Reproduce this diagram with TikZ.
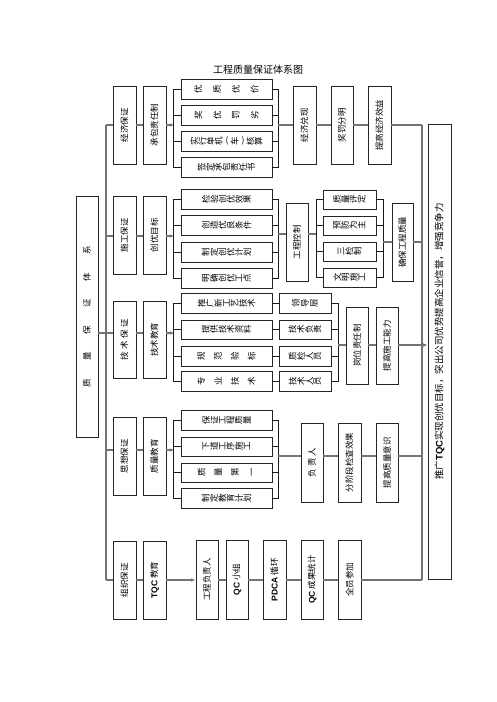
\documentclass[tikz,border=0pt]{standalone}
\usepackage{fontspec}
\setmainfont{Noto Sans CJK SC}
\newfontfamily\lat{Liberation Sans}
\usepackage{graphicx}
\usetikzlibrary{arrows.meta,calc}

\newdimen\lsep
\newif\ifrotch
\def\spcstop{\spcstop}
\def\spcput#1{\ifrotch\rotatebox[origin=c]{90}{\vphantom{国}#1}\else#1\fi}
\def\spcloop#1{\def\spctmp{#1}\ifx\spctmp\spcstop\else\hskip\lsep\relax\spcput{#1}\expandafter\spcloop\fi}
\newcommand\spaced[2]{{\lsep=#1\relax\rotchfalse\hskip-\lsep\relax\spcloop#2\spcstop}}
\newcommand\rotchars[2]{{\lsep=#1\relax\rotchtrue\hskip-\lsep\relax\spcloop#2\spcstop}}
\newcommand\rup[1]{\rotatebox{90}{#1}}
\newcommand\lp{{\rotatebox[origin=c]{-90}{(}}}
\newcommand\rp{{\rotatebox[origin=c]{-90}{)}}}
\newcommand\lb[1]{{\lat\bfseries #1}}
\newcommand\bx[6]{\node[box,minimum width={(#4-#2)*1pt},minimum height={(#5-#3)*1pt}] (#1) at ({(#2+#4)/2},{(#3+#5)/2}) {#6};}

\begin{document}
\begin{tikzpicture}[x=1pt,y=-1pt,
  box/.style={draw=black!85,line width=0.8pt,inner sep=0pt,font=\fontsize{8.5}{10}\selectfont},
  main/.style={draw=black!55,line width=1.1pt},
  br/.style={draw=black!90,line width=0.7pt},
  arr/.style={-{Latex[length=4.5pt,width=3.5pt]}}]
\useasboundingbox (0,0) rectangle (496,702);
\node[font=\fontsize{10}{12}\selectfont] (title) at (258,70) {工程质量保证体系图};

% big boxes
\bx{L}{76}{196}{98}{437}{\rup{\spaced{18pt}{质量保证体系}}}
\bx{M}{428}{124}{451}{579}{\rup{\fontsize{9.5}{12}\selectfont\hspace{20pt}推广\lb{TQC}实现创优目标，突出公司优势提高企业信誉，增强竞争力}}

% trunk and collector
\coordinate (t1) at (106,125); \coordinate (t2) at (106,236); \coordinate (t3) at (106,333);
\coordinate (t4) at (106,450); \coordinate (t5) at (106,580);
\coordinate (k1) at (422,125); \coordinate (k2) at (422,242); \coordinate (k3) at (422,345);
\coordinate (k4) at (422,456); \coordinate (k5) at (422,580);
\draw[main] (t1) -- (t5);
\draw[main] (k1) -- (k5);
\draw[main] (L.east |- t3) -- (t3);

% ---------- row 1
\bx{A1}{113}{86}{136}{164}{\rup{经济保证}}
\bx{B1}{143}{86}{166}{164}{\rup{承包责任制}}
\bx{C11}{181}{79}{272}{99}{\rotchars{11pt}{优质优价}}
\bx{C12}{181}{105}{272}{125}{\rotchars{11pt}{奖优罚劣}}
\bx{C13}{181}{131}{272}{151}{\rotchars{0.3pt}{实行单机{\lp}车{\rp}核算}}
\bx{C14}{181}{157}{272}{177}{\rotchars{0.5pt}{签定承包责任书}}
\bx{D1}{293}{86}{316}{164}{\rup{经济兑现}}
\bx{E1}{331}{86}{353}{164}{\rup{奖罚分明}}
\bx{F1}{368}{86}{391}{164}{\rup{提高经济效益}}
\draw[main] (t1) -- (t1 -| A1.west);
\draw[main] (A1.east |- t1) -- (B1.west |- t1);
\draw[main,arr] (B1.east |- t1) -- ++(8,0);
\draw[br] (C11.west) -- ++(-7,0) |- (C14.west);
\draw[br] (C12.west) -- ++(-7,0);
\draw[br] (C13.west) -- ++(-7,0);
\draw[br] (C11.east) -- ++(6,0) |- (C14.east);
\draw[br] (C12.east) -- ++(6,0);
\draw[br] (C13.east) -- ++(6,0);
\coordinate (m1) at (278,125);
\draw[main] (m1) -- (D1.west |- m1);
\draw[main] (D1.east |- m1) -- (E1.west |- m1);
\draw[main] (E1.east |- m1) -- (F1.west |- m1);
\draw[main] (F1.east |- k1) -- (k1);

% ---------- row 2
\bx{A2}{113}{196}{136}{274}{\rup{施工保证}}
\bx{B2}{143}{196}{166}{274}{\rup{创优目标}}
\bx{C21}{181}{189}{272}{209}{\rotchars{0.5pt}{检验创优效果}}
\bx{C22}{181}{215}{272}{235}{\rotchars{0.5pt}{创造优良条件}}
\bx{C23}{181}{242}{272}{262}{\rotchars{0.5pt}{制定创优计划}}
\bx{C24}{181}{268}{272}{288}{\rotchars{0.5pt}{明确创优工点}}
\bx{G2}{286}{203}{308}{281}{\rup{工程控制}}
\bx{H21}{323}{190}{376}{209}{\rotchars{0.5pt}{质量评定}}
\bx{H22}{323}{216}{376}{235}{\rotchars{0.5pt}{预防为主}}
\bx{H23}{323}{242}{376}{261}{\rotchars{0.5pt}{三检制}}
\bx{H24}{323}{268}{376}{287}{\rotchars{0.5pt}{文明施工}}
\bx{I2}{392}{203}{413}{281}{\rup{确保工程质量}}
\draw[main] (t2) -- (t2 -| A2.west);
\draw[main] (A2.east |- t2) -- (B2.west |- t2);
\draw[main,arr] (B2.east |- t2) -- ++(8,0);
\draw[br] (C21.west) -- ++(-7,0) |- (C24.west);
\draw[br] (C22.west) -- ++(-7,0);
\draw[br] (C23.west) -- ++(-7,0);
\draw[br] (C21.east) -- ++(6,0) |- (C24.east);
\draw[br] (C22.east) -- ++(6,0);
\draw[br] (C23.east) -- ++(6,0);
\coordinate (m2) at (278,234);
\draw[main] (m2) -- (G2.west |- m2);
\draw[main] (G2.east |- m2) -- ++(9,0);
\draw[br] (H21.west) -- ++(-6,0) |- (H24.west);
\draw[br] (H22.west) -- ++(-6,0);
\draw[br] (H23.west) -- ++(-6,0);
\draw[br] (H21.east) -- ++(7,0) |- (H24.east);
\draw[br] (H22.east) -- ++(7,0);
\draw[br] (H23.east) -- ++(7,0);
\draw[main] (I2.west |- k2) -- ++(-9,0);
\draw[main] (I2.east |- k2) -- (k2);

% ---------- row 3
\bx{A3}{113}{301}{136}{378}{\rup{\spaced{2.5pt}{技术保证}}}
\bx{B3}{143}{301}{166}{378}{\rup{技术教育}}
\bx{C31}{181}{293}{272}{313}{\rotchars{0.5pt}{推广新工艺技术}}
\bx{C32}{181}{320}{272}{339}{\rotchars{0.5pt}{提供技术资料}}
\bx{C33}{181}{346}{272}{366}{\rotchars{9pt}{规范验标}}
\bx{C34}{181}{371}{272}{391}{\rotchars{9pt}{专业技术}}
\bx{J31}{279}{293}{331}{313}{\rotchars{1.5pt}{领导层}}
\bx{J32}{279}{320}{331}{339}{\rotchars{0.5pt}{技术负责}}
\bx{J33}{279}{346}{331}{366}{\rotchars{0.5pt}{质检人员}}
\bx{J34}{279}{371}{331}{391}{\rotchars{0.5pt}{技术人员}}
\bx{K3}{346}{307}{368}{384}{\rup{岗位责任制}}
\bx{L3}{376}{307}{398}{384}{\rup{提高施工能力}}
\draw[main] (t3) -- (t3 -| A3.west);
\draw[main] (A3.east |- t3) -- (B3.west |- t3);
\draw[main,arr] (B3.east |- t3) -- ++(8,0);
\draw[br] (C31.west) -- ++(-7,0) |- (C34.west);
\draw[br] (C32.west) -- ++(-7,0);
\draw[br] (C33.west) -- ++(-7,0);
\draw[br] (C31.east) -- (J31.west);
\draw[br] (C32.east) -- (J32.west);
\draw[br] (C33.east) -- (J33.west);
\draw[br] (C34.east) -- (J34.west);
\draw[br] (J31.east) -- ++(7,0) |- (J34.east);
\draw[br] (J32.east) -- ++(7,0);
\draw[br] (J33.east) -- ++(7,0);
\coordinate (m3) at (338,345);
\draw[main] (m3) -- (K3.west |- m3);
\draw[main] (K3.east |- m3) -- (L3.west |- m3);
\draw[main,arr] (L3.east |- k3) -- (M.west |- k3);

% ---------- row 4
\bx{A4}{113}{417}{136}{495}{\rup{思想保证}}
\bx{B4}{143}{417}{166}{495}{\rup{质量教育}}
\bx{C41}{181}{410}{272}{430}{\rotchars{0.5pt}{保证工程质量}}
\bx{C42}{181}{437}{272}{456}{\rotchars{0.5pt}{下道工序施工}}
\bx{C43}{181}{463}{272}{482}{\rotchars{9pt}{质量第一}}
\bx{C44}{181}{488}{272}{508}{\rotchars{0.5pt}{制定教育计划}}
\bx{N4}{301}{423}{323}{502}{\rup{\spaced{2pt}{负责人}}}
\bx{O4}{338}{423}{361}{502}{\rup{分阶段检查效果}}
\bx{P4}{376}{423}{398}{502}{\rup{提高质量意识}}
\draw[main] (t4) -- (t4 -| A4.west);
\draw[main] (A4.east |- t4) -- (B4.west |- t4);
\draw[main,arr] (B4.east |- t4) -- ++(8,0);
\draw[br] (C41.west) -- ++(-7,0) |- (C44.west);
\draw[br] (C42.west) -- ++(-7,0);
\draw[br] (C43.west) -- ++(-7,0);
\draw[br] (C41.east) -- ++(6,0) |- (C44.east);
\draw[br] (C42.east) -- ++(6,0);
\draw[br] (C43.east) -- ++(6,0);
\coordinate (m4) at (278,456);
\draw[main] (m4) -- (N4.west |- m4);
\draw[main] (N4.east |- m4) -- (O4.west |- m4);
\draw[main] (O4.east |- m4) -- (P4.west |- m4);
\draw[main] (P4.east |- k4) -- (k4);

% ---------- row 5
\bx{A5}{113}{541}{136}{619}{\rup{组织保证}}
\bx{B5}{143}{541}{166}{619}{\rup{\lb{TQC} 教育}}
\bx{Q1}{196}{540}{218}{619}{\rup{工程负责人}}
\bx{Q2}{226}{540}{248}{619}{\rup{\lb{QC} 小组}}
\bx{Q3}{263}{540}{286}{619}{\rup{\lb{PDCA} 循环}}
\bx{Q4}{301}{540}{323}{619}{\rup{\lb{QC} 成果统计}}
\bx{Q5}{338}{540}{361}{619}{\rup{全员参加}}
\draw[main] (t5) -- (t5 -| A5.west);
\draw[main] (A5.east |- t5) -- (B5.west |- t5);
\draw[main,arr] (B5.east |- t5) -- (Q1.west |- t5);
\draw[main] (Q1.east |- t5) -- (Q2.west |- t5);
\draw[main] (Q2.east |- t5) -- (Q3.west |- t5);
\draw[main] (Q3.east |- t5) -- (Q4.west |- t5);
\draw[main] (Q4.east |- t5) -- (Q5.west |- t5);
\draw[main] (Q5.east |- k5) -- (k5);
\end{tikzpicture}
\end{document}
